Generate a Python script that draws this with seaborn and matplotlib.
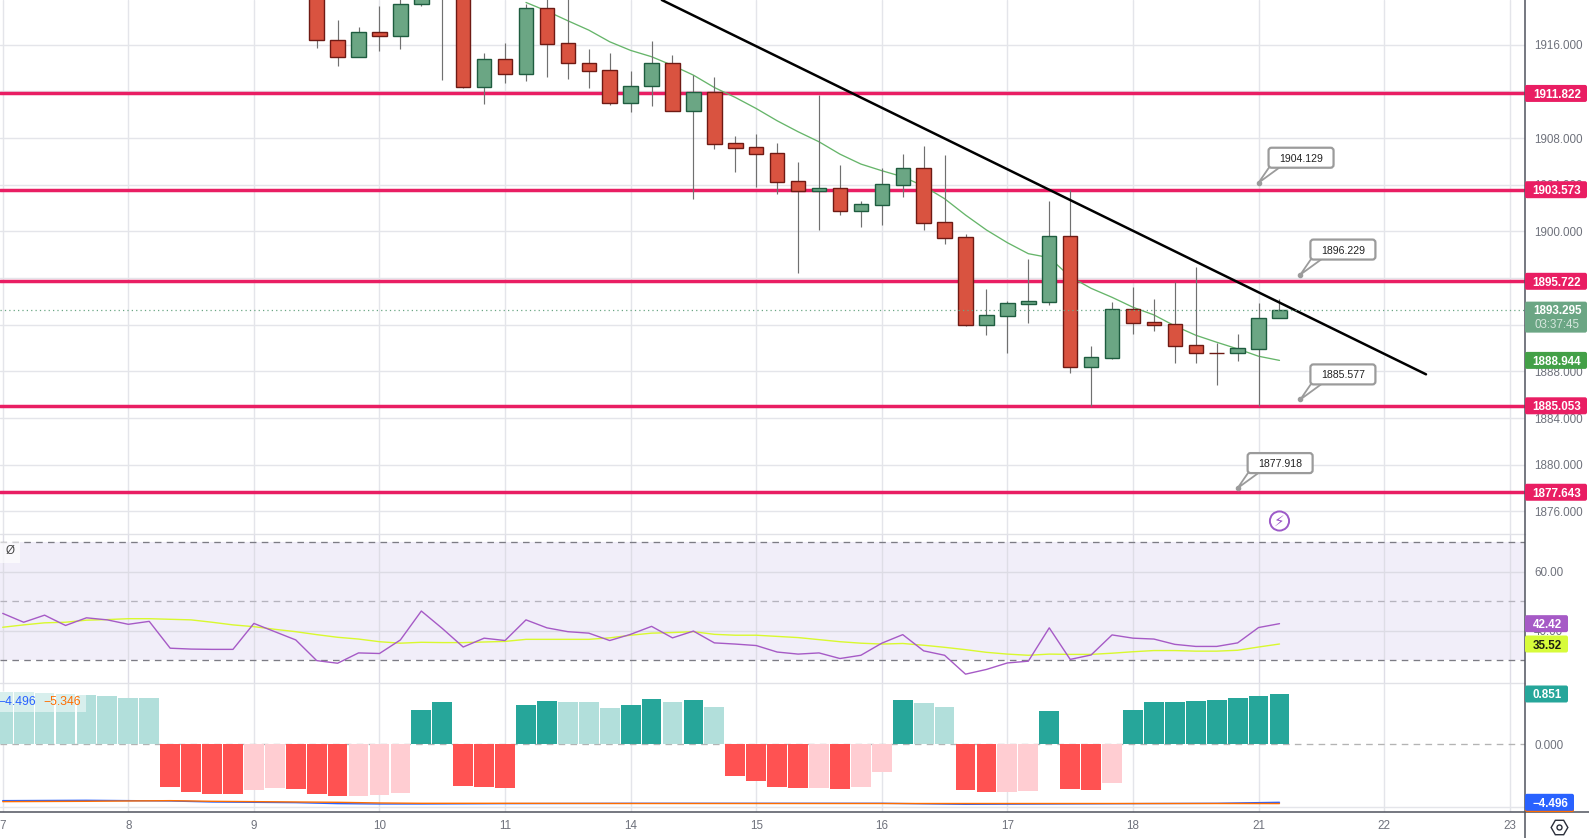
import matplotlib
matplotlib.use("Agg")
import matplotlib.pyplot as plt
from matplotlib.lines import Line2D
from matplotlib.patches import FancyBboxPatch, Polygon, Rectangle
from matplotlib.transforms import IdentityTransform
import seaborn as sns

# candles, 4h bars, bar 0 is the "7" tick
candle_bar = list(range(15, 62))
opens = [1921.5, 1916.37, 1914.97, 1917.06, 1916.77, 1919.45, 1923.0, 1921.0, 1912.40, 1914.74,
         1913.51, 1919.11, 1916.11, 1914.40, 1913.80, 1911.03, 1912.43, 1914.40, 1910.34, 1911.91,
         1907.54, 1907.20, 1906.68, 1904.28, 1903.49, 1903.69, 1901.77, 1902.29, 1904.00, 1905.40,
         1900.77, 1899.49, 1892.01, 1892.78, 1893.81, 1893.98, 1899.58, 1888.42, 1889.19, 1893.33,
         1892.21, 1892.04, 1890.24, 1889.62, 1889.56, 1889.96, 1892.56]
closes = [1916.37, 1914.97, 1917.06, 1916.77, 1919.45, 1921.0, 1921.0, 1912.40, 1914.74, 1913.51,
          1919.11, 1916.08, 1914.40, 1913.77, 1911.03, 1912.43, 1914.40, 1910.34, 1911.91, 1907.52,
          1907.17, 1906.66, 1904.26, 1903.49, 1903.69, 1901.77, 1902.32, 1904.03, 1905.40, 1900.75,
          1899.46, 1892.01, 1892.81, 1893.84, 1894.01, 1899.58, 1888.42, 1889.22, 1893.33, 1892.18,
          1892.01, 1890.22, 1889.62, 1889.56, 1889.99, 1892.56, 1893.295]
highs = [1922.0, 1918.11, 1917.48, 1919.31, 1920.5, 1921.5, 1923.5, 1921.5, 1915.28, 1916.14,
         1919.48, 1920.5, 1921.0, 1915.63, 1915.28, 1913.74, 1916.31, 1915.11, 1913.40, 1913.23,
         1908.17, 1908.34, 1907.54, 1905.94, 1911.73, 1905.68, 1902.60, 1905.40, 1906.62, 1907.31,
         1906.54, 1899.78, 1895.07, 1894.01, 1897.64, 1902.60, 1903.54, 1890.19, 1893.95, 1895.24,
         1894.21, 1895.69, 1896.95, 1890.41, 1891.21, 1893.87, 1894.21]
lows = [1915.74, 1914.20, 1914.97, 1915.48, 1915.66, 1919.34, 1912.97, 1912.31, 1910.91, 1912.71,
        1912.91, 1913.26, 1913.09, 1912.31, 1910.83, 1910.23, 1910.74, 1910.34, 1902.77, 1907.09,
        1905.09, 1903.80, 1903.23, 1896.47, 1900.12, 1901.40, 1900.37, 1900.55, 1902.94, 1900.12,
        1898.92, 1891.90, 1891.13, 1889.59, 1892.16, 1893.70, 1887.87, 1885.05, 1889.07, 1891.21,
        1891.47, 1888.73, 1888.73, 1886.85, 1888.90, 1885.05, 1892.56]

ema_bar = list(range(25, 62))
ema = [1919.62, 1918.88, 1918.05, 1917.25, 1916.25, 1915.51, 1914.97, 1914.22, 1913.39, 1912.33,
       1911.48, 1910.53, 1909.48, 1908.54, 1907.68, 1906.62, 1905.77, 1905.20, 1904.68, 1903.88,
       1902.80, 1901.40, 1900.12, 1899.03, 1898.09, 1897.75, 1896.12, 1895.12, 1894.35, 1893.50,
       1892.84, 1891.90, 1891.10, 1890.50, 1889.93, 1889.30, 1888.944]

levels = [1911.822, 1903.573, 1895.722, 1885.053, 1877.643]
trend_bar = [31.49, 68.0]
trend_price = [1919.83, 1887.75]

callout_bar = [60, 62, 62, 59]
callout_price = [1904.17, 1896.30, 1885.60, 1878.0]
callout_text = ["1904.129", "1896.229", "1885.577", "1877.918"]

price_ticks = [1916, 1912, 1908, 1904, 1900, 1896, 1892, 1888, 1884, 1880, 1876]
# these three sit fully behind the level and last price labels in the original
price_tick_text = ["1916.000", "", "1908.000", "1904.000", "1900.000", "", "", "1888.000", "1884.000",
                   "1880.000", "1876.000"]

# rsi pane
bars = list(range(0, 62))
rsi = [45.9, 42.9, 45.3, 41.8, 44.4, 43.7, 42.2, 43.2, 34.1, 33.8, 33.7, 33.7, 42.5, 39.7, 36.9, 29.9,
       29.0, 32.5, 32.3, 36.9, 46.7, 40.8, 34.5, 37.5, 36.7, 43.7, 41.0, 39.7, 39.2, 36.7, 38.8, 41.5,
       37.6, 39.9, 35.9, 35.5, 35.0, 32.8, 32.1, 32.5, 30.6, 31.7, 35.8, 38.7, 33.2, 31.7, 25.3, 26.9,
       29.1, 29.7, 41.0, 30.3, 31.8, 38.6, 37.5, 37.2, 35.4, 34.7, 34.7, 35.9, 41.1, 42.42]
rsi_ma = [41.2, 42.0, 42.7, 42.9, 43.6, 43.8, 44.1, 44.1, 43.9, 43.7, 42.9, 42.0, 41.4, 40.5, 39.7, 38.7,
          37.8, 37.2, 36.3, 35.8, 36.1, 36.0, 36.0, 36.2, 36.4, 37.1, 37.1, 37.1, 37.1, 37.6, 38.5, 39.2,
          39.4, 39.7, 38.8, 38.5, 38.5, 38.1, 37.7, 37.0, 36.3, 35.8, 35.5, 35.7, 35.1, 34.4, 33.6, 32.7,
          32.1, 31.7, 32.1, 32.0, 32.0, 32.4, 32.9, 33.3, 33.3, 33.1, 33.1, 33.4, 34.5, 35.52]

# macd pane
hist = [.891, .879, .868, .857, .834, .817, .784, .784, -.722, -.806, -.840, -.840, -.772, -.738, -.755, -.840,
        -.874, -.874, -.857, -.823, .581, .716, -.705, -.722, -.738, .665, .733, .716, .716, .614, .665, .767,
        .716, .750, .631, -.536, -.620, -.722, -.738, -.738, -.755, -.722, -.468, .750, .699, .631, -.772, -.806,
        -.806, -.789, .564, -.755, -.772, -.654, .581, .716, .716, .733, .750, .784, .817, .851]
hist_kind = list("LLLLLLLL" "RRRR" "PP" "RRR" "PPP" "TT" "RRR" "TT" "LLL" "TT" "L" "T" "L"
                 "RRRR" "P" "R" "PP" "T" "LL" "RR" "PP" "T" "RR" "P" "TTTTTTTT")
macd_bar = [0, 4, 8, 10, 12, 14, 16, 18, 20, 24, 30, 36, 42, 46, 50, 54, 58, 61]
macd_line = [-3.39, -3.16, -3.61, -4.27, -4.50, -4.72, -5.38, -5.61, -5.61, -5.38, -5.16, -5.16, -5.16,
             -5.83, -5.61, -5.38, -5.16, -4.496]
signal_line = [-4.05, -3.83, -3.39, -3.83, -4.05, -4.27, -4.50, -4.94, -5.16, -5.16, -5.30, -5.30, -5.30,
               -5.30, -5.30, -5.30, -5.30, -5.346]

day_bar = [0, 6, 12, 18, 24, 30, 36, 42, 48, 54, 60, 66, 72]
day_text = ["7", "8", "9", "10", "11", "14", "15", "16", "17", "18", "21", "22", "23"]

W, H = 1589, 838
AXIS_X = 1525
GRID = "#e4e5ea"
TICK = "#6f727c"
UP, UP_EDGE = "#6ba684", "#1e5c3f"
DOWN, DOWN_EDGE = "#d95340", "#6e1a14"
LEVEL = "#e91e63"
RSI_C, MA_C = "#a65ac6", "#d9f92e"

sns.set_theme(style="white")
plt.rcParams["font.family"] = ["Liberation Sans", "DejaVu Sans"]

fig = plt.figure(figsize=(W / 100, H / 100), dpi=100, facecolor="white")


def pane(top, bottom):
    a = fig.add_axes([0, (H - bottom) / H, AXIS_X / W, (bottom - top) / H])
    for s in a.spines.values():
        s.set_visible(False)
    a.set_xlim(-0.13, 72.73)
    a.set_xticks(day_bar)
    a.grid(True, axis="x", color=GRID, lw=1.0, zorder=0)
    a.set_axisbelow(True)
    a.yaxis.tick_right()
    a.tick_params(axis="y", length=0, pad=6.5, labelsize=8.4, labelcolor=TICK)
    a.tick_params(axis="x", length=0, labelbottom=False)
    return a


ax = pane(0, 534.3)
ax_rsi = pane(534.3, 683.3)
ax_macd = pane(683.3, 812)

# main pane
ax.set_ylim(1874.04, 1919.83)
ax.set_yticks(price_ticks)
ax.set_yticklabels(price_tick_text)
ax.grid(True, axis="y", color=GRID, lw=1.0)
for lv in levels:
    ax.axhline(lv, color=LEVEL, lw=2.5, zorder=2)
sns.lineplot(x=ema_bar, y=ema, color="#66b56a", linewidth=0.95, ax=ax, zorder=2.5, legend=False)
ax.vlines(candle_bar, lows, highs, color="#707070", lw=0.85, zorder=3)
for b, o, c in zip(candle_bar, opens, closes):
    up = c >= o
    ax.bar(b, abs(c - o), bottom=min(o, c), width=0.69, color=UP if up else DOWN,
           edgecolor=UP_EDGE if up else DOWN_EDGE, linewidth=1.0, zorder=3.5)
ax.plot(trend_bar, trend_price, color="black", lw=1.8, zorder=4, solid_capstyle="round")
ax.axhline(closes[-1], color=UP, lw=0.9, ls=(0, (1, 2.5)), zorder=5)
ax.scatter([61], [1875.18], s=190, facecolors="none", edgecolors="#9c5ac8", linewidths=1.4, zorder=4, clip_on=False)
ax.text(61, 1875.15, "\u26a1", color="#9c5ac8", fontsize=11, ha="center", va="center",
        family="DejaVu Sans", zorder=4)
ax.set_xlabel("")
ax.set_ylabel("")

# rsi pane
ax_rsi.set_ylim(22.2, 72.71)
ax_rsi.set_yticks([60, 40])
ax_rsi.set_yticklabels(["60.00", "40.00"])
ax_rsi.axhspan(30, 70, color="#f1eef9", lw=0, zorder=0.5)
ax_rsi.grid(True, axis="y", color="#dcdbe4", lw=1.0)
ax_rsi.grid(True, axis="x", color="#dedde6", lw=1.0)
ax_rsi.axhline(70, color="#7c7c84", lw=0.95, ls=(0, (5, 4)), zorder=1)
ax_rsi.axhline(50, color="#b5b3bd", lw=0.95, ls=(0, (5, 4)), zorder=1)
ax_rsi.axhline(30, color="#7c7c84", lw=0.95, ls=(0, (5, 4)), zorder=1)
sns.lineplot(x=bars, y=rsi_ma, color=MA_C, linewidth=1.0, ax=ax_rsi, zorder=3, legend=False)
sns.lineplot(x=bars, y=rsi, color=RSI_C, linewidth=1.0, ax=ax_rsi, zorder=3.5, legend=False)
ax_rsi.set_xlim(-0.13, 72.73)
ax_rsi.set_xlabel("")
ax_rsi.set_ylabel("")

# macd pane, histogram has its own scale
ax_lines = ax_macd.twinx()
ax_macd.yaxis.tick_right()
ax_lines.set_zorder(ax_macd.get_zorder() + 1)
ax_lines.patch.set_visible(False)
for s in ax_lines.spines.values():
    s.set_visible(False)
ax_lines.tick_params(length=0, labelright=False, labelleft=False)
ax_lines.grid(False)
ax_macd.axhline(0, color="#b4b4b4", lw=0.95, ls=(0, (5, 4)), zorder=1)
ax_macd.axhline(-1.066, color=GRID, lw=1.0, zorder=0.5)
sns.barplot(x=bars, y=hist, hue=hist_kind, dodge=False, native_scale=True, width=0.945, saturation=1,
            palette={"T": "#26a69a", "L": "#b2dfdb", "R": "#ff5252", "P": "#ffcdd2"},
            linewidth=0, legend=False, errorbar=None, ax=ax_macd, zorder=2)
ax_macd.set_xlim(-0.13, 72.73)
ax_macd.set_ylim(-1.1455, 1.032)
ax_macd.set_yticks([0])
ax_macd.set_yticklabels(["0.000"])
ax_macd.set_xticks(day_bar)
ax_macd.set_xticklabels(day_text)
ax_macd.tick_params(axis="x", labelbottom=True, labelsize=8.4, labelcolor=TICK, pad=5.5)
ax_macd.tick_params(axis="y", right=False, left=False, labelright=True, labelleft=False)
ax_macd.set_xlabel("")
ax_macd.set_ylabel("")
sns.lineplot(x=macd_bar, y=macd_line, color="#2962ff", linewidth=1.0, ax=ax_lines, legend=False)
sns.lineplot(x=macd_bar, y=signal_line, color="#ff6d00", linewidth=1.0, ax=ax_lines, legend=False)
ax_lines.set_xlim(-0.13, 72.73)
ax_lines.set_ylim(-10.96, 74.84)
ax_lines.set_yticks([])
ax_lines.set_ylabel("")

fig.canvas.draw()
px = IdentityTransform()


def box(x, y, w, h, fill, edge="none", lw=0, z=6, r=2):
    fig.add_artist(FancyBboxPatch((x, y), w, h, boxstyle=f"round,pad=0,rounding_size={r}", fc=fill, ec=edge,
                                  lw=lw, transform=px, zorder=z))


def side_label(a, value, text, fill, ink="white", w=62, h=17, z=6):
    y = a.transData.transform((0, value))[1]
    box(AXIS_X, y - h / 2, w, h, fill, z=z)
    fig.text((AXIS_X + w / 2 + 1) / W, y / H, text, color=ink, fontsize=8.4, fontweight="bold",
             ha="center", va="center_baseline", zorder=z + 0.1)


for lv in levels:
    side_label(ax, lv, f"{lv:.3f}", LEVEL)
side_label(ax, ema[-1], "1888.944", "#43a047")

# last price label has the countdown under it
y_last = ax.transData.transform((0, closes[-1]))[1]
box(AXIS_X, y_last - 23, 62, 31, "#6ba684")
fig.text((AXIS_X + 32) / W, y_last / H, "1893.295", color="white", fontsize=8.4, fontweight="bold",
         ha="center", va="center_baseline", zorder=6.1)
fig.text((AXIS_X + 32) / W, (y_last - 14) / H, "03:37:45", color="#d5e6dc", fontsize=8.4,
         ha="center", va="center_baseline", zorder=6.1)

side_label(ax_rsi, rsi[-1], "42.42", RSI_C, w=43)
side_label(ax_rsi, rsi_ma[-1], "35.52", "#d7fb3a", ink="#1d1f12", w=43)
side_label(ax_macd, hist[-1], "0.851", "#26a69a", w=43)
side_label(ax_lines, signal_line[-1], "", "#ff6d00", w=49)
side_label(ax_lines, macd_line[-1], "\u22124.496", "#2962ff", w=49, z=6.5)

# callouts on the price pane
for b, p, t in zip(callout_bar, callout_price, callout_text):
    tx, ty = ax.transData.transform((b, p))
    fig.add_artist(Polygon([(tx, ty), (tx + 11, ty + 16), (tx + 22, ty + 16)], closed=True, fc="white",
                           ec="#9b9b9b", lw=1.3, transform=px, zorder=7))
    box(tx + 10, ty + 15, 65, 20, "white", edge="#9b9b9b", lw=1.6, z=7.1, r=3)
    fig.add_artist(Line2D([tx], [ty], marker="o", ms=3, color="#9b9b9b", transform=px, zorder=7.2))
    fig.text((tx + 42.5) / W, (ty + 25) / H, t, color="#222222", fontsize=7.6, ha="center",
             va="center_baseline", zorder=7.3)

# pane borders and price axis
for y in (534.3, 683.3):
    fig.add_artist(Line2D([0, AXIS_X], [H - y, H - y], color="#e1e2e7", lw=1.0, transform=px, zorder=1))
fig.add_artist(Line2D([0, W], [H - 812, H - 812], color="#50535e", lw=1.1, transform=px, zorder=5))
fig.add_artist(Line2D([AXIS_X, AXIS_X], [0, H], color="#50535e", lw=1.1, transform=px, zorder=5))

# leftovers from the trading screen
fig.add_artist(Rectangle((0, H - 563), 20, 21, fc="white", alpha=0.65, ec="none", transform=px, zorder=5))
fig.text(10 / W, (H - 551) / H, "\u00d8", color="#444444", fontsize=8.4, ha="center", va="center", zorder=5.1)
fig.add_artist(Rectangle((0, H - 712), 86, 21, fc="white", alpha=0.5, ec="none", transform=px, zorder=5))
fig.text(-2 / W, (H - 701.5) / H, "\u22124.496", color="#2962ff", fontsize=8.8, va="center", zorder=5.1)
fig.text(43 / W, (H - 701.5) / H, "\u22125.346", color="#ff6d00", fontsize=8.8, va="center", zorder=5.1)
fig.add_artist(Line2D([1558.6], [H - 826.7], marker="H", ms=12, mfc="none", mec="#2a2e39", mew=1.0,
                      transform=px, zorder=5))
fig.add_artist(Line2D([1558.6], [H - 826.7], marker="o", ms=3.6, mfc="none", mec="#2a2e39", mew=1.0,
                      transform=px, zorder=5))

fig.savefig("out.png", dpi=100)
